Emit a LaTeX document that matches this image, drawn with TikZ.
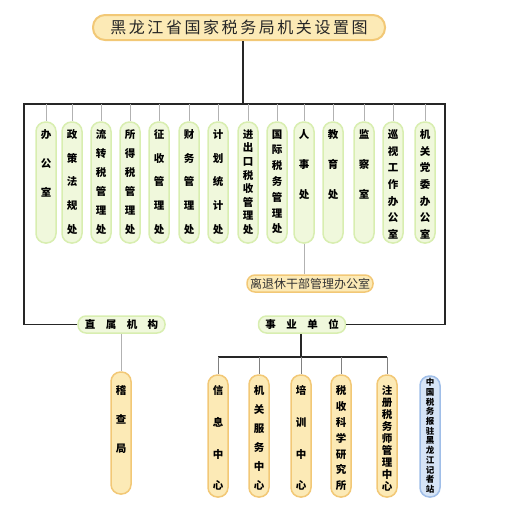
\documentclass[tikz,border=0pt]{standalone}
\usepackage{fontspec}
\setmainfont{Noto Sans CJK SC}
\newfontfamily\titlefont{Noto Sans CJK SC}[LetterSpace=16]

\definecolor{gfill}{RGB}{240,248,220}
\definecolor{gline}{RGB}{216,238,176}
\definecolor{ofill}{RGB}{252,234,182}
\definecolor{oline}{RGB}{242,200,118}
\definecolor{bfill}{RGB}{214,228,246}
\definecolor{bline}{RGB}{160,190,232}

\tikzset{
  col/.style={rounded corners=9.5pt, draw=gline, line width=1.5pt, fill=gfill,
    minimum width=20pt, minimum height=121pt, inner sep=0pt},
  ocol/.style={col, draw=oline, fill=ofill, minimum height=122pt},
  bcol/.style={col, draw=bline, fill=bfill, minimum height=121pt},
  vt/.style={anchor=north, inner sep=0pt, align=center, yshift=-8pt,
    font=\bfseries\fontsize{10.5}{#1}\selectfont},
  svt/.style={vt=#1, font=\bfseries\fontsize{8.5}{#1}\selectfont},
  hbox/.style={rounded corners=8pt, draw=gline, line width=1.5pt, fill=gfill,
    minimum width=87pt, minimum height=17pt, inner sep=0pt,
    font=\bfseries\fontsize{10.5}{12}\selectfont},
  link/.style={draw=black!30, line width=1pt},
  trunk/.style={draw=black!85, line width=1.4pt}
}

\begin{document}
\begin{tikzpicture}[x=1pt,y=-1pt]
\useasboundingbox (0,0) rectangle (512,506);

\path
(239,27.5) node[rounded corners=12pt, draw=oline, fill=ofill, line width=2pt,
  minimum width=292pt, minimum height=25pt, inner sep=0pt,
  font=\titlefont\fontsize{16}{18}\selectfont, text=black!85] (ttl) {黑龙江省国家税务局机关设置图};

% departments
\path
(46,182.5)  node[col, label={[vt=29]north:办\\公\\室}] (bgs) {}
(72,182.5)  node[col, label={[vt=23.75]north:政\\策\\法\\规\\处}] (zcfg) {}
(101,182.5) node[col, label={[vt=19]north:流\\转\\税\\管\\理\\处}] (lzs) {}
(130,182.5) node[col, label={[vt=19]north:所\\得\\税\\管\\理\\处}] (sds) {}
(159,182.5) node[col, label={[vt=23.75]north:征\\收\\管\\理\\处}] (zsgl) {}
(189,182.5) node[col, label={[vt=23.75]north:财\\务\\管\\理\\处}] (cwgl) {}
(218,182.5) node[col, label={[vt=23.75]north:计\\划\\统\\计\\处}] (jhtj) {}
(248,182.5) node[col, label={[vt=13.6]north:进\\出\\口\\税\\收\\管\\理\\处}] (jck) {}
(277,182.5) node[col, label={[vt=15.8]north:国\\际\\税\\务\\管\\理\\处}] (gjs) {}
(304,182.5) node[col, label={[vt=30]north:人\\事\\处}] (rsc) {}
(333,182.5) node[col, label={[vt=30]north:教\\育\\处}] (jyc) {}
(364,182.5) node[col, label={[vt=30]north:监\\察\\室}] (jcs) {}
(393,182.5) node[col, label={[vt=16.7]north:巡\\视\\工\\作\\办\\公\\室}] (xsb) {}
(425,182.5) node[col, label={[vt=16.7]north:机\\关\\党\\委\\办\\公\\室}] (jgdw) {};

\path
(310,283.5) node[rounded corners=8pt, draw=oline, fill=ofill, line width=1.5pt,
  minimum width=126pt, minimum height=17pt, inner sep=0pt,
  font=\fontsize{12}{14}\selectfont, text=black!80] (ltx) {离退休干部管理办公室}
(121.5,324.5) node[hbox] (zs) {直\hspace{10.5pt}属\hspace{10.5pt}机\hspace{10.5pt}构}
(302,324.5) node[hbox] (sy) {事\hspace{10.5pt}业\hspace{10.5pt}单\hspace{10.5pt}位};

% units
\path
(121,433)   node[ocol, label={[vt=29, yshift=-6.5pt]north:稽\\查\\局}] (jcj) {}
(218,436)   node[ocol, label={[vt=31.6, yshift=-3.5pt]north:信\\息\\中\\心}] (xx) {}
(259,436)   node[ocol, label={[vt=19, yshift=-3.5pt]north:机\\关\\服\\务\\中\\心}] (jgfw) {}
(301,436)   node[ocol, label={[vt=31.6, yshift=-3.5pt]north:培\\训\\中\\心}] (px) {}
(341,436)   node[ocol, label={[vt=15.8, yshift=-3.5pt]north:税\\收\\科\\学\\研\\究\\所}] (kys) {}
(387,436)   node[ocol, label={[vt=11.9, yshift=-3.5pt]north:注\\册\\税\\务\\师\\管\\理\\中\\心}] (zc) {}
(430,436.5) node[bcol, label={[svt=9.7, yshift=5pt]north:中\\国\\税\\务\\报\\驻\\黑\\龙\\江\\记\\者\\站}] (jzz) {};

\coordinate (tl) at (24,104);
\coordinate (tr) at (445,104);
\coordinate (top) at (243,104);
\coordinate (hb) at (301,357);

\draw[trunk] (top |- ttl.south) -- (top);
\draw[trunk] (zs.west) -| (tl) -- (tr) |- (sy.east);
\foreach \n in {bgs,zcfg,lzs,sds,zsgl,cwgl,jhtj,jck,gjs,rsc,jyc,jcs,xsb,jgdw}
  \draw[link] (\n.north |- tl) -- (\n.north);
\draw[link] (rsc.south) -- (rsc.south |- ltx.north);
\draw[link] (zs.south -| jcj.north) -- (jcj.north);
\draw[trunk] (sy.south -| hb) -- (hb);
\draw[trunk] (xx.north |- hb) -- (zc.north |- hb);
\foreach \n in {xx,jgfw,px,kys,zc}
  \draw[link, draw=black!50] (\n.north |- hb) -- (\n.north);
\end{tikzpicture}
\end{document}
